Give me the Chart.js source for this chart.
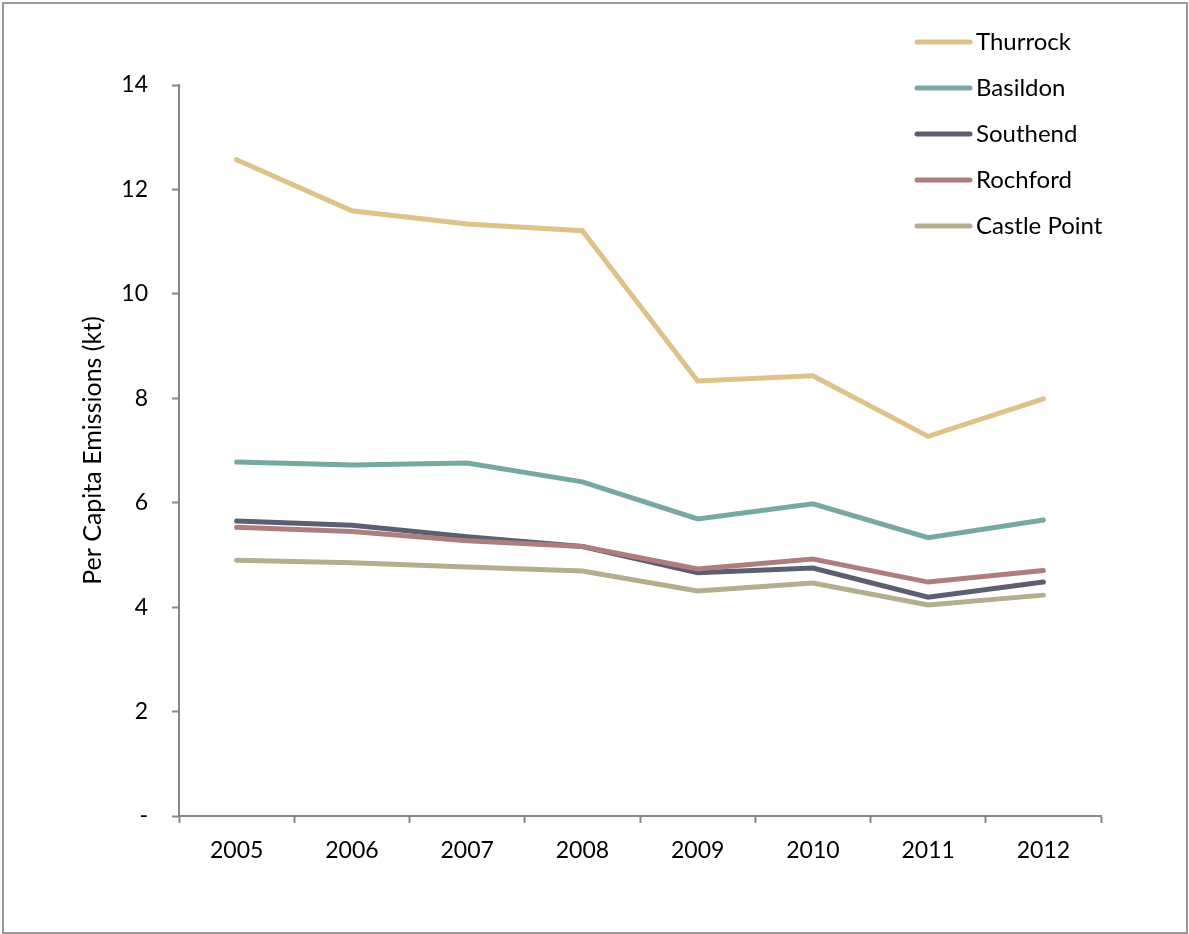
<!DOCTYPE html>
<html>
<head>
<meta charset="utf-8">
<title>Per Capita Emissions</title>
<script src="https://cdn.jsdelivr.net/npm/chart.js@4.4.1/dist/chart.umd.min.js"></script>
<style>
  html, body { margin: 0; padding: 0; background: #fff; }
  #wrap { position: relative; width: 1189px; height: 934px; }
  #wrap canvas { position: absolute; left: 0; top: 0; }
  /* thin grey frame round the whole chart */
  #frame {
    position: absolute; left: 2px; top: 2px; width: 1186px; height: 932px;
    box-sizing: border-box; border: 2px solid #9a9a9a; pointer-events: none;
  }
</style>
</head>
<body>
<div id="wrap">
  <canvas id="emissionsChart" width="1189" height="934"></canvas>
  <div id="frame"></div>
</div>
<script>
// Per capita emissions (kt) by district, 2005-2012
const years = ['2005', '2006', '2007', '2008', '2009', '2010', '2011', '2012'];
const thurrock    = [12.57, 11.59, 11.34, 11.21, 8.33, 8.43, 7.27, 7.99];
const basildon    = [6.78, 6.72, 6.76, 6.40, 5.69, 5.98, 5.33, 5.67];
const southend    = [5.65, 5.57, 5.35, 5.16, 4.66, 4.75, 4.19, 4.48];
const rochford    = [5.53, 5.45, 5.27, 5.16, 4.73, 4.92, 4.48, 4.70];
const castlePoint = [4.90, 4.85, 4.77, 4.69, 4.31, 4.46, 4.04, 4.23];
const yTicks = [0, 2, 4, 6, 8, 10, 12, 14];

const FONT = 'Lato, "Open Sans", sans-serif';
const AXIS_GREY = '#878787';

function series(label, data, colour, order) {
  return {
    label: label,
    data: data,
    borderColor: colour,
    backgroundColor: colour,
    borderWidth: 5,
    borderCapStyle: 'round',
    borderJoinStyle: 'miter',
    pointRadius: 0,
    pointHoverRadius: 0,
    tension: 0,
    fill: false,
    order: order
  };
}

// Legend in the top right corner, drawn over the plot area
const cornerLegend = {
  id: 'cornerLegend',
  afterDraw: function (chart) {
    const ctx = chart.ctx;
    ctx.save();
    ctx.font = '24px ' + FONT;
    ctx.textBaseline = 'middle';
    ctx.textAlign = 'left';
    chart.data.datasets.forEach(function (ds, i) {
      const y = 42 + i * 46;
      ctx.strokeStyle = ds.borderColor;
      ctx.lineWidth = 5;
      ctx.lineCap = 'round';
      ctx.beginPath();
      ctx.moveTo(917, y);
      ctx.lineTo(970, y);
      ctx.stroke();
      ctx.fillStyle = '#000';
      ctx.fillText(ds.label, 976, y);
    });
    ctx.restore();
  }
};

const canvas = document.getElementById('emissionsChart');
new Chart(canvas, {
  type: 'line',
  data: {
    labels: years,
    datasets: [
      series('Thurrock', thurrock, '#DFC18A', 4),
      series('Basildon', basildon, '#78A8A2', 3),
      series('Southend', southend, '#5C5F72', 2),
      series('Rochford', rochford, '#AE7E7E', 1),
      series('Castle Point', castlePoint, '#B3AE8E', 0)
    ]
  },
  options: {
    responsive: false,
    animation: false,
    events: [],
    layout: {
      padding: { top: 85, right: 88, bottom: 0, left: 0 }
    },
    plugins: {
      legend: { display: false },
      tooltip: { enabled: false }
    },
    scales: {
      x: {
        type: 'category',
        offset: true,
        afterFit: function (scale) { scale.height = 118; },
        grid: {
          offset: true,
          drawOnChartArea: false,
          drawTicks: true,
          tickLength: 7,
          tickWidth: 2,
          color: AXIS_GREY
        },
        border: { display: true, color: AXIS_GREY, width: 2 },
        ticks: {
          color: '#000',
          padding: 14,
          maxRotation: 0,
          font: { family: FONT, size: 23 }
        }
      },
      y: {
        min: 0,
        max: 14,
        afterFit: function (scale) { scale.width = 179; },
        afterBuildTicks: function (scale) {
          scale.ticks = yTicks.map(function (v) { return { value: v }; });
        },
        grid: {
          drawOnChartArea: false,
          drawTicks: true,
          tickLength: 7,
          tickWidth: 2,
          color: AXIS_GREY
        },
        border: { display: true, color: AXIS_GREY, width: 2 },
        ticks: {
          color: '#000',
          padding: 24,
          font: { family: FONT, size: 23 },
          callback: function (value) { return value === 0 ? '-' : String(value); }
        },
        title: {
          display: true,
          text: 'Per Capita Emissions (kt)',
          color: '#000',
          padding: { top: 78, bottom: 0 },
          font: { family: FONT, size: 25 }
        }
      }
    }
  },
  plugins: [cornerLegend]
});
</script>
</body>
</html>
